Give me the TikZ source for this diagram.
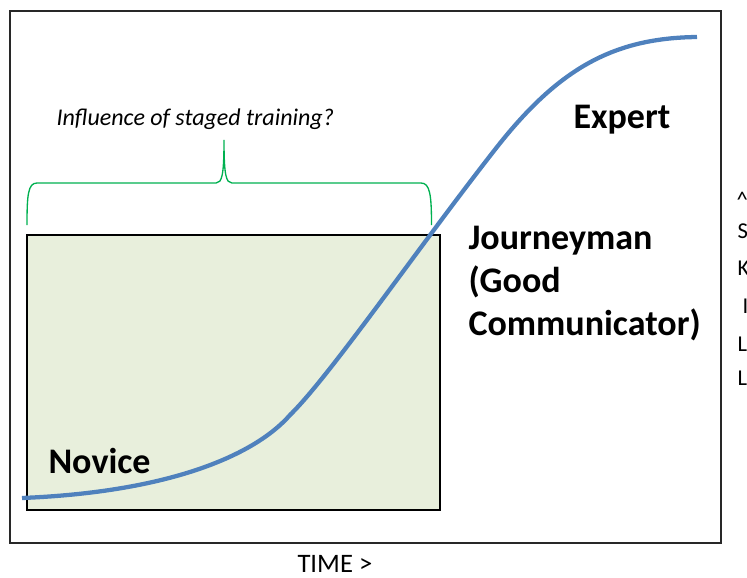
\documentclass[tikz,border=0pt]{standalone}
\usepackage{fontspec}
\setmainfont{Carlito}
\usetikzlibrary{positioning}

\definecolor{curveblue}{RGB}{79,129,189}
\definecolor{boxgreen}{RGB}{232,239,220}
\definecolor{bracegreen}{RGB}{0,176,80}

\tikzset{every picture/.style={line width=0.75pt}}
\tikzset{
  stage/.style={anchor=base west,inner sep=0pt,font=\fontsize{27}{32.25}\selectfont\bfseries,align=left},
  axislabel/.style={anchor=base west,inner sep=0pt,font=\fontsize{20}{24}\selectfont},
  skillletter/.style={anchor=base west,inner sep=0pt,font=\fontsize{17}{20}\selectfont},
}

\begin{document}
\begin{tikzpicture}[x=0.75pt,y=0.75pt,yscale=-1,xscale=1]
    \useasboundingbox (0,0) rectangle (747,578);

    %Shape: Rectangle [outer frame]
    \draw [color={rgb, 255:red, 40; green, 40; blue, 40 }, line width=1pt] (10,11) rectangle (721,543);
    %Shape: Rectangle [novice zone]
    \draw [fill=boxgreen, line width=2pt] (27,235) rectangle (440,510);

    %Curve Lines [learning curve]
    \draw [curveblue, line width=3.2pt]
      (22,498) .. controls (170,492) and (255,455) .. (290,415)
      .. controls (330,376) and (420,245) .. (497,147)
      .. controls (560,67) and (615,38) .. (697,37);

    %Shape: Brace
    \draw [bracegreen, line width=1pt]
      (27,225) .. controls (27,195) and (28,183) .. (37,183) -- (216,183)
      .. controls (222,183) and (224,175) .. (224,140)
      .. controls (224,175) and (226,183) .. (232,183) -- (421,183)
      .. controls (430,183) and (431.5,195) .. (431.5,225);

    % Text Node
    \node [anchor=base west, inner sep=0pt, font=\fontsize{18}{22}\selectfont\itshape] (influence) at (56,125) {Influence of staged training?};
    % Text Node
    \node [stage] (expert) at (573,128) {Expert};
    % Text Node
    \node [stage] (journeyman) at (468,249) {Journeyman};
    \node [stage] (good) at (468,292) {(Good};
    \node [stage] (communicator) at (468,335) {Communicator)};
    % Text Node
    \node [stage] (novice) at (48,473) {Novice};
    % Text Node
    \node [axislabel] (time) at (297,572) {TIME >};

    % Text Node [vertical axis, cut at the edge]
    \node [skillletter] (caret) at (736,207) {\textasciicircum};
    \node [skillletter] (s1) at (737,238) {S};
    \node [skillletter] (k1) at (737,275) {K};
    \node [skillletter] (i1) at (742,313) {I};
    \node [skillletter] (l1) at (737,351) {L};
    \node [skillletter] (l2) at (737,385) {L};

\end{tikzpicture}
\end{document}
